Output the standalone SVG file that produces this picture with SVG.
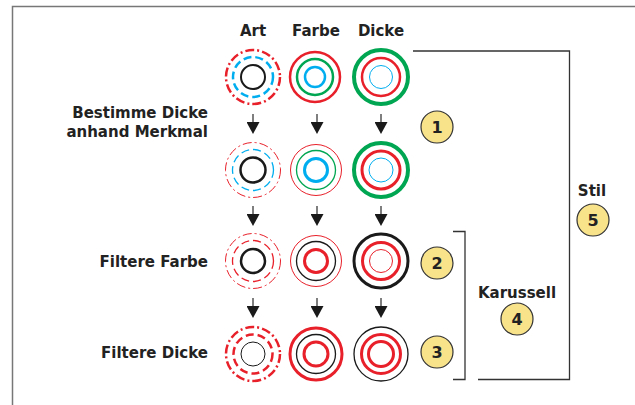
<svg xmlns="http://www.w3.org/2000/svg" width="635" height="405" viewBox="0 0 635 405">
<defs>
<style>
.lbl{font-family:"DejaVu Sans","Liberation Sans",sans-serif;font-weight:bold;font-size:15px;fill:#222}
.num{font-family:"DejaVu Sans","Liberation Sans",sans-serif;font-weight:bold;font-size:16px;fill:#222;text-anchor:middle}
.c{fill:none}
.r{stroke:#e8202a}.g{stroke:#00a651}.b{stroke:#00aeef}.k{stroke:#1a1a1a}
.w1{stroke-width:1}.w2{stroke-width:2}.w25{stroke-width:2.5}.w3{stroke-width:3}.w4{stroke-width:4}
.dd{stroke-dasharray:9 3 2 3}
.ds{stroke-dasharray:8 4}
.badge{fill:#f8e28a;stroke:#333;stroke-width:1.2}
.br{fill:none;stroke:#333;stroke-width:1.3}
.shaft{stroke:#555;stroke-width:1.5}
</style>
<marker id="ah" markerUnits="userSpaceOnUse" viewBox="0 0 12 13" markerWidth="12" markerHeight="13" refX="0" refY="6.5" orient="auto">
<path d="M0,0 L12,6.5 L0,13 z" fill="#1a1a1a"/>
</marker>
</defs>
<rect width="635" height="405" fill="#fff"/>
<g id="frame" fill="none" stroke="#777" stroke-width="1.5">
<path d="M12.5,405 V6.5 H635"/>
</g>

<g id="headers" class="lbl" text-anchor="middle">
<text x="253" y="36">Art</text>
<text x="316" y="36">Farbe</text>
<text x="381" y="36">Dicke</text>
</g>

<g id="left-labels" class="lbl" text-anchor="end">
<text x="208" y="118">Bestimme Dicke</text>
<text x="208" y="137">anhand Merkmal</text>
<text x="208" y="267">Filtere Farbe</text>
<text x="208" y="358">Filtere Dicke</text>
</g>

<!-- Row 1 -->
<g id="r1-art" class="c">
<circle cx="253" cy="77" r="27" class="c r w25 dd"/>
<circle cx="253" cy="77" r="20" class="c b w25 ds"/>
<circle cx="253" cy="77" r="12" class="c k w2"/>
</g>
<g id="r1-farbe">
<circle cx="315" cy="77" r="25" class="c r w25"/>
<circle cx="315" cy="77" r="18" class="c g w25"/>
<circle cx="315" cy="77" r="10" class="c b w25"/>
</g>
<g id="r1-dicke">
<circle cx="381" cy="77" r="27" class="c g w4"/>
<circle cx="381" cy="77" r="19" class="c r w25"/>
<circle cx="381" cy="77" r="11.5" class="c b w1"/>
</g>

<!-- Row 2 -->
<g id="r2-art">
<circle cx="253" cy="170" r="27.5" class="c r w1 dd"/>
<circle cx="253" cy="170" r="20.5" class="c b w1 ds" style="stroke-width:1.3"/>
<circle cx="253" cy="170" r="12.5" class="c k w25"/>
</g>
<g id="r2-farbe">
<circle cx="316" cy="170" r="25.5" class="c r w1"/>
<circle cx="316" cy="170" r="19.5" class="c g w1" style="stroke-width:1.3"/>
<circle cx="316" cy="170" r="11.5" class="c b w3"/>
</g>
<g id="r2-dicke">
<circle cx="381" cy="170" r="27" class="c g w4"/>
<circle cx="381" cy="170" r="19" class="c r w3"/>
<circle cx="381" cy="170" r="12" class="c b w1"/>
</g>

<!-- Row 3 -->
<g id="r3-art">
<circle cx="253" cy="261" r="27.5" class="c r w1 dd"/>
<circle cx="253" cy="261" r="20.5" class="c r w1 ds" style="stroke-width:1.3"/>
<circle cx="253" cy="261" r="12" class="c k w25"/>
</g>
<g id="r3-farbe">
<circle cx="316" cy="261" r="25.5" class="c r w1"/>
<circle cx="316" cy="261" r="19.5" class="c k w1" style="stroke-width:1.3"/>
<circle cx="316" cy="261" r="11.5" class="c r w3"/>
</g>
<g id="r3-dicke">
<circle cx="381" cy="261" r="27" class="c k w3"/>
<circle cx="381" cy="261" r="18.5" class="c r w3"/>
<circle cx="381" cy="261" r="11.5" class="c r w1"/>
</g>

<!-- Row 4 -->
<g id="r4-art">
<circle cx="253" cy="354" r="27" class="c r w25 dd"/>
<circle cx="253" cy="354" r="19.5" class="c r w25 ds"/>
<circle cx="253" cy="354" r="12" class="c k w1"/>
</g>
<g id="r4-farbe">
<circle cx="316" cy="354" r="26" class="c r w3"/>
<circle cx="316" cy="354" r="19.5" class="c k w1" style="stroke-width:1.3"/>
<circle cx="316" cy="354" r="12" class="c r w3"/>
</g>
<g id="r4-dicke">
<circle cx="381" cy="354" r="27" class="c k w1" style="stroke-width:1.3"/>
<circle cx="381" cy="354" r="19.5" class="c r w3"/>
<circle cx="381" cy="354" r="12.5" class="c r w3"/>
</g>

<g id="connectors" class="shaft" marker-end="url(#ah)">
<line x1="253" y1="114" x2="253" y2="122"/>
<line x1="317" y1="114" x2="317" y2="122"/>
<line x1="381" y1="114" x2="381" y2="122"/>
<line x1="253" y1="206" x2="253" y2="214"/>
<line x1="317" y1="206" x2="317" y2="214"/>
<line x1="381" y1="206" x2="381" y2="214"/>
<line x1="253" y1="298" x2="253" y2="306"/>
<line x1="317" y1="298" x2="317" y2="306"/>
<line x1="381" y1="298" x2="381" y2="306"/>
</g>

<g id="brackets">
<path class="br" d="M413,51 H569.5 V379.5 H478"/>
<path class="br" d="M453,231.5 H465 V379.5 H453"/>
</g>

<g id="badge-1"><circle cx="437" cy="127" r="16" class="badge"/><text x="437" y="133" class="num">1</text></g>
<g id="badge-2"><circle cx="437" cy="263" r="16" class="badge"/><text x="437" y="269" class="num">2</text></g>
<g id="badge-3"><circle cx="437" cy="352" r="16" class="badge"/><text x="437" y="358" class="num">3</text></g>
<g id="badge-4"><text x="517" y="298" class="lbl" text-anchor="middle">Karussell</text><circle cx="517" cy="319" r="16" class="badge"/><text x="517" y="325" class="num">4</text></g>
<g id="badge-5"><text x="592" y="196" class="lbl" text-anchor="middle">Stil</text><circle cx="593" cy="220" r="16" class="badge"/><text x="593" y="226" class="num">5</text></g>
</svg>
